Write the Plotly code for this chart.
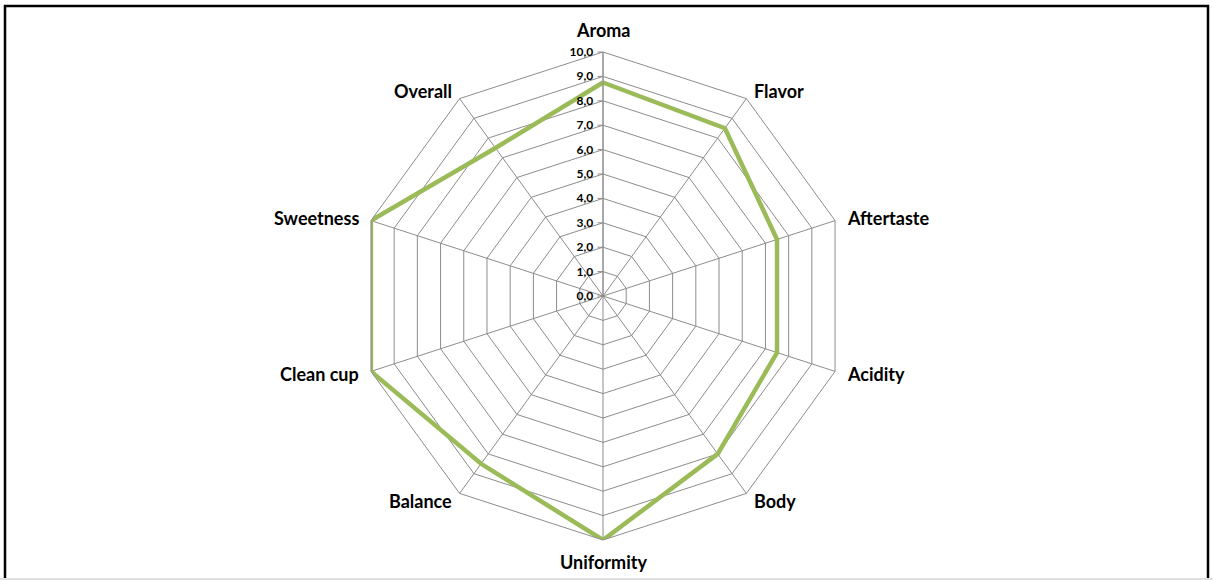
import math
import plotly.graph_objects as go

categories = ["Aroma", "Flavor", "Aftertaste", "Acidity", "Body",
              "Uniformity", "Balance", "Clean cup", "Sweetness", "Overall"]
scores = [8.75, 8.5, 7.5, 7.5, 8.0, 10.0, 8.5, 10.0, 10.0, 7.5]
tick_values = [0, 1, 2, 3, 4, 5, 6, 7, 8, 9, 10]
tick_labels = ["0,0", "1,0", "2,0", "3,0", "4,0", "5,0", "6,0", "7,0", "8,0", "9,0", "10,0"]

W, H = 1213, 580
cx, cy, R = 603, 296, 244   # centre / radius in pixels

fig = go.Figure()
fig.add_trace(go.Scatterpolar(
    r=scores + scores[:1],
    theta=categories + categories[:1],
    mode="lines",
    line=dict(color="#9bbb59", width=4.5),
    hoverinfo="skip",
    showlegend=False,
))

# category labels placed just outside each outer vertex (Excel-like placement)
annotations = []
n = len(categories)
for i, name in enumerate(categories):
    th = 2 * math.pi * i / n
    s, c = math.sin(th), math.cos(th)
    vx = cx + R * s
    vy = cy - R * c
    if abs(s) < 0.1:
        xanchor, xshift = "center", 0
        yshift = 22 if c > 0 else -22
    else:
        gap = 11 * abs(s) - 0.5
        xanchor = "left" if s > 0 else "right"
        xshift = gap if s > 0 else -gap
        yshift = 9.5 * c
    annotations.append(dict(
        x=vx / W, y=1 - vy / H, xref="paper", yref="paper",
        text=name, showarrow=False, xanchor=xanchor, yanchor="middle",
        xshift=xshift, yshift=yshift,
        font=dict(size=18, family="Lato", weight="bold", color="black"),
    ))

grid = "#8c8c8c"
fig.update_layout(
    width=W, height=H,
    margin=dict(l=0, r=0, t=0, b=0),
    paper_bgcolor="white",
    plot_bgcolor="white",
    font=dict(family="Lato, 'Open Sans', sans-serif", color="black"),
    polar=dict(
        domain=dict(x=[(cx - R) / W, (cx + R) / W], y=[(H - cy - R) / H, (H - cy + R) / H]),
        bgcolor="white",
        gridshape="linear",
        angularaxis=dict(
            rotation=90, direction="clockwise",
            showline=True, linecolor=grid, linewidth=1,
            gridcolor=grid, gridwidth=1,
            ticks="", showticklabels=False,
        ),
        radialaxis=dict(
            range=[0, 10], angle=90, tickangle=90,
            tickvals=tick_values, ticktext=tick_labels,
            showline=True, linecolor=grid, linewidth=1,
            gridcolor=grid, gridwidth=1,
            ticks="outside", ticklen=5, tickcolor=grid,
            side="counterclockwise",
            tickfont=dict(size=12, family="Lato", weight="bold", color="black"),
        ),
    ),
    annotations=annotations,
    shapes=[
        dict(type="rect", xref="paper", yref="paper",
             x0=5 / W, x1=1208 / W, y0=-0.05, y1=1 - 6 / H,
             line=dict(color="black", width=2.5), fillcolor="rgba(0,0,0,0)", layer="above"),
        dict(type="line", xref="paper", yref="paper",
             x0=0, x1=1, y0=1 - 579 / H, y1=1 - 579 / H,
             line=dict(color="#e0e0e0", width=2)),
    ],
)

fig.write_html(
    "out.html",
    config={"displayModeBar": False, "staticPlot": True},
    post_script="document.body.style.margin='0';document.body.style.overflow='hidden';",
)
